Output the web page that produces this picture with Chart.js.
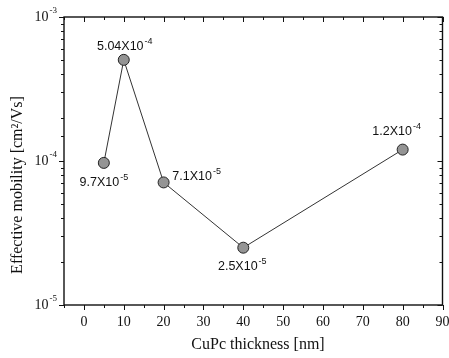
<!DOCTYPE html>
<html>
<head>
<meta charset="utf-8">
<script src="https://cdn.jsdelivr.net/npm/chart.js@4/dist/chart.umd.min.js"></script>
<style>
  html, body { margin: 0; padding: 0; background: #fff; }
  #wrap { width: 449px; height: 358px; position: relative; }
</style>
</head>
<body>
<div id="wrap"><canvas id="c" width="449" height="358"></canvas></div>
<script>
// ---- data ----
const thickness = [5, 10, 20, 40, 80];
const mobility = [9.7e-5, 5.04e-4, 7.1e-5, 2.5e-5, 1.2e-4];
const labelMantissa = ['9.7', '5.04', '7.1', '2.5', '1.2'];
const labelExponent = ['-5', '-4', '-5', '-5', '-4'];
const xTickValues = [0, 10, 20, 30, 40, 50, 60, 70, 80, 90];
const yTickExponents = [-5, -4, -3];
const xTitle = 'CuPc thickness [nm]';
const yTitle = 'Effective mobility [cm\u00B2/Vs]';

// ---- styles (layout only) ----
const labelOffsets = [
  { dx: 0, dy: 20 },
  { dx: 1, dy: -13 },
  { dx: 33, dy: -6 },
  { dx: -1, dy: 19 },
  { dx: -6, dy: -18 }
];
const serif = '"Liberation Serif", "Times New Roman", serif';
const sans = '"Liberation Sans", Arial, sans-serif';
const ink = '#111';

const decorPlugin = {
  id: 'decor',
  afterDatasetsDraw(chart) {
    const ctx = chart.ctx;
    const meta = chart.getDatasetMeta(0);
    ctx.save();
    ctx.fillStyle = ink;
    ctx.textBaseline = 'middle';
    meta.data.forEach((pt, i) => {
      const mFont = '12.5px ' + sans;
      const eFont = '9px ' + sans;
      const mant = labelMantissa[i] + 'X10';
      ctx.font = mFont;
      const wm = ctx.measureText(mant).width;
      ctx.font = eFont;
      const we = ctx.measureText(labelExponent[i]).width;
      const total = wm + we + 1;
      const cx = pt.x + labelOffsets[i].dx;
      const cy = pt.y + labelOffsets[i].dy;
      const x0 = cx - total / 2;
      ctx.textAlign = 'left';
      ctx.font = mFont;
      ctx.fillText(mant, x0, cy);
      ctx.font = eFont;
      ctx.fillText(labelExponent[i], x0 + wm + 1, cy - 5);
    });
    ctx.restore();
  },
  afterDraw(chart) {
    const ctx = chart.ctx;
    const a = chart.chartArea;
    const xs = chart.scales.x;
    const ys = chart.scales.y;
    ctx.save();
    ctx.strokeStyle = ink;
    ctx.lineWidth = 1.4;
    ctx.strokeRect(a.left, a.top, a.right - a.left, a.bottom - a.top);
    ctx.lineWidth = 1;
    ctx.beginPath();
    xs.ticks.forEach(t => {
      const px = Math.round(xs.getPixelForValue(t.value)) + 0.5;
      const major = t.value % 10 === 0;
      ctx.moveTo(px, a.bottom); ctx.lineTo(px, a.bottom + (major ? 5 : 3));
      ctx.moveTo(px, a.top); ctx.lineTo(px, a.top + (major ? 5 : 3));
    });
    ys.ticks.forEach(t => {
      const py = Math.round(ys.getPixelForValue(t.value)) + 0.5;
      const m = t.value / Math.pow(10, Math.floor(Math.log10(t.value) + 1e-9));
      const major = Math.abs(m - 1) < 1e-6;
      ctx.moveTo(a.left, py); ctx.lineTo(a.left - (major ? 5 : 3), py);
      ctx.moveTo(a.right, py); ctx.lineTo(a.right - (major ? 5 : 3), py);
    });
    ctx.stroke();

    // y tick labels 10^n
    ctx.fillStyle = ink;
    ctx.textBaseline = 'middle';
    yTickExponents.forEach(e => {
      const py = ys.getPixelForValue(Math.pow(10, e));
      const exp = '-' + Math.abs(e);
      ctx.font = '9px ' + serif;
      const we = ctx.measureText(exp).width;
      ctx.textAlign = 'right';
      ctx.fillText(exp, a.left - 7, py - 6);
      ctx.font = '14px ' + serif;
      ctx.fillText('10', a.left - 7 - we - 1, py);
    });

    // axis titles
    ctx.font = '16px ' + serif;
    ctx.textAlign = 'center';
    ctx.textBaseline = 'middle';
    ctx.fillText(xTitle, 258, 345);
    ctx.save();
    ctx.translate(18, 185);
    ctx.rotate(-Math.PI / 2);
    ctx.fillText(yTitle, 0, 0);
    ctx.restore();
    ctx.restore();
  }
};

function noPad(s) {
  s.paddingLeft = 0; s.paddingRight = 0; s.paddingTop = 0; s.paddingBottom = 0;
}

new Chart(document.getElementById('c'), {
  type: 'line',
  data: {
    datasets: [{
      data: thickness.map((x, i) => ({ x: x, y: mobility[i] })),
      borderColor: '#333',
      borderWidth: 1,
      pointRadius: 5.5,
      pointBackgroundColor: '#949494',
      pointBorderColor: '#222',
      pointBorderWidth: 1,
      tension: 0
    }]
  },
  options: {
    responsive: false,
    animation: false,
    devicePixelRatio: 1,
    layout: { padding: { left: 0, top: 17, right: 5, bottom: 0 } },
    plugins: { legend: { display: false }, tooltip: { enabled: false } },
    scales: {
      x: {
        type: 'linear',
        min: -5, max: 90,
        afterFit: s => { s.height = 53; noPad(s); },
        grid: { display: false, drawTicks: false },
        border: { display: false },
        ticks: {
          stepSize: 5,
          autoSkip: false,
          maxRotation: 0,
          padding: 9,
          color: ink,
          font: { family: serif, size: 14 },
          callback: v => xTickValues.includes(v) ? String(v) : ''
        }
      },
      y: {
        type: 'logarithmic',
        min: 1e-5, max: 1e-3,
        afterFit: s => { s.width = 64; noPad(s); },
        grid: { display: false, drawTicks: false },
        border: { display: false },
        ticks: { display: false }
      }
    }
  },
  plugins: [decorPlugin]
});
</script>
</body>
</html>
